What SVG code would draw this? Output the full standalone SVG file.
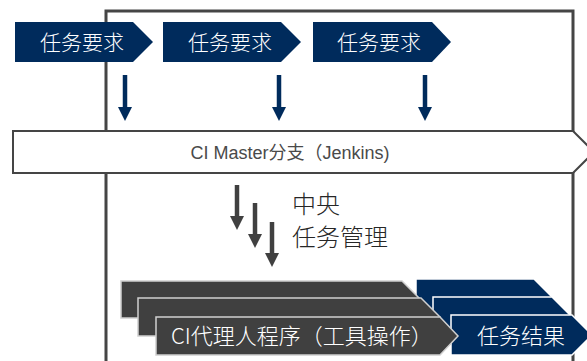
<svg xmlns="http://www.w3.org/2000/svg" width="587" height="361" viewBox="0 0 587 361">
<style>
.req{fill:#002B5C}
.reqtxt{font-family:"Noto Sans CJK SC","Liberation Sans",sans-serif;font-size:21px;font-weight:300;fill:#ffffff}
.dark{fill:#404040;stroke:#d0d0d0;stroke-width:1.5}
.res{fill:#002B5C;stroke:#ffffff;stroke-width:1.5}
.big{font-family:"Noto Sans CJK SC","Liberation Sans",sans-serif;font-size:22px;font-weight:300;fill:#ffffff}
.mid{font-family:"Noto Sans CJK SC","Liberation Sans",sans-serif;font-size:24px;font-weight:300;fill:#262626}
.navyline{stroke:#002B5C;stroke-width:4.5}
.grayline{stroke:#404040;stroke-width:4.5}
</style>
<rect width="587" height="361" fill="#ffffff"/>
<g id="frame">
<path d="M106,362 L106,11 L573,11 L573,362" fill="none" stroke="#454545" stroke-width="3"/>
</g>
<g id="req1">
<polygon class="req" points="15,22 133,22 153,42 133,62 15,62"/>
<text class="reqtxt" x="40" y="50">任务要求</text>
</g>
<g id="req2">
<polygon class="req" points="163,22 281,22 301,42 281,62 163,62"/>
<text class="reqtxt" x="188" y="50">任务要求</text>
</g>
<g id="req3">
<polygon class="req" points="313,22 432,22 451,42 432,62 313,62"/>
<text class="reqtxt" x="337" y="50">任务要求</text>
</g>
<g id="connectors">
<line class="navyline" x1="125" y1="75" x2="125" y2="110"/>
<polygon points="118,107 132,107 125,121" fill="#002B5C"/>
<line class="navyline" x1="279" y1="75" x2="279" y2="110"/>
<polygon points="272,107 286,107 279,121" fill="#002B5C"/>
<line class="navyline" x1="425" y1="75" x2="425" y2="110"/>
<polygon points="418,107 432,107 425,121" fill="#002B5C"/>
<line class="grayline" x1="237" y1="185" x2="237" y2="219"/>
<polygon points="230,216 244,216 237,230" fill="#404040"/>
<line class="grayline" x1="255" y1="203" x2="255" y2="237"/>
<polygon points="248,234 262,234 255,248" fill="#404040"/>
<line class="grayline" x1="272" y1="222" x2="272" y2="256"/>
<polygon points="265,253 279,253 272,267" fill="#404040"/>
</g>
<g id="master">
<polygon points="13,131 573,131 594,152 573,173 13,173" fill="#ffffff" stroke="#454545" stroke-width="2"/>
<text x="290" y="159" text-anchor="middle" font-family="'Liberation Sans','Noto Sans CJK SC',sans-serif" font-size="18" fill="#4a4a4a">CI Master分支（Jenkins)</text>
</g>
<g id="central">
<text class="mid" x="292" y="213">中央</text>
<text class="mid" x="292" y="246">任务管理</text>
</g>
<g id="result1">
<polygon class="res" points="416,279 534,279 553,298 534,318 416,318"/>
</g>
<g id="agent1">
<polygon class="dark" points="121,281 402,281 421,300 402,318 121,318"/>
</g>
<g id="result2">
<polygon class="res" points="433,297 552,297 571,316 552,336 433,336"/>
</g>
<g id="agent2">
<polygon class="dark" points="138,298 421,298 440,317 421,336 138,336"/>
</g>
<g id="result3">
<polygon class="res" points="451,315 572,315 592,335 572,355 451,355"/>
<text class="big" x="477" y="344">任务结果</text>
</g>
<g id="agent3">
<polygon class="dark" points="156,317 440,317 458,336 440,355 156,355"/>
<text class="big" x="171" y="344">CI代理人程序（工具操作）</text>
</g>
</svg>
